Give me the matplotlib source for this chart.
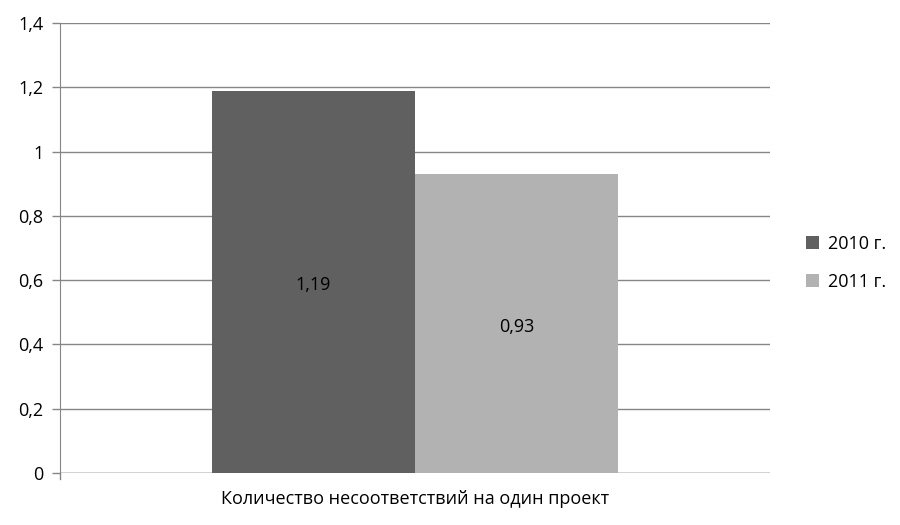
import matplotlib
matplotlib.use("Agg")
import matplotlib.pyplot as plt
from matplotlib.patches import Patch

plt.rcParams["font.family"] = ["Open Sans", "DejaVu Sans"]

category = "Количество несоответствий на один проект"
series = ["2010 г.", "2011 г."]
values = [1.19, 0.93]
colors = ["#606060", "#b2b2b2"]
yticks = [0, 0.2, 0.4, 0.6, 0.8, 1.0, 1.2, 1.4]

fig = plt.figure(figsize=(9, 5.25), dpi=100)
ax = fig.add_axes([60 / 900, 1 - 473 / 525, 710 / 900, 450 / 525])

width = 0.286
offsets = [-width / 2, width / 2]
for name, val, col, off in zip(series, values, colors, offsets):
    ax.bar(off, val, width=width, color=col, zorder=3)
    ax.text(off, val / 2 - 0.01, f"{val:.2f}".replace(".", ","), ha="center", va="center",
            fontsize=13, color="#000000", zorder=4)

ax.set_xlim(-0.5, 0.5)
ax.set_ylim(0, 1.4)
ax.set_yticks(yticks)
ax.set_yticklabels([("%g" % t).replace(".", ",") for t in yticks], fontsize=13)
ax.set_xticks([0])
ax.set_xticklabels([category], fontsize=13)
ax.tick_params(axis="x", length=0, pad=12)
ax.tick_params(axis="y", length=6, color="#868686", width=1, pad=6)
ax.grid(axis="y", color="#868686", linewidth=1, zorder=0)
for s in ["top", "right"]:
    ax.spines[s].set_visible(False)
ax.spines["left"].set_color("#868686")
ax.spines["bottom"].set_visible(False)
ax.axhline(0, color="#868686", linewidth=1, zorder=2)
ax.plot([-0.5, -0.5], [0, -0.02], color="#868686", linewidth=1, clip_on=False)

handles = [Patch(facecolor=c, label=n) for n, c in zip(series, colors)]
fig.legend(handles=handles, loc="center left", bbox_to_anchor=(790 / 900, 1 - 263 / 525),
           frameon=False, fontsize=13, handlelength=0.7, handleheight=0.7,
           handletextpad=0.5, labelspacing=1.1)

fig.savefig("out.png", dpi=100)
